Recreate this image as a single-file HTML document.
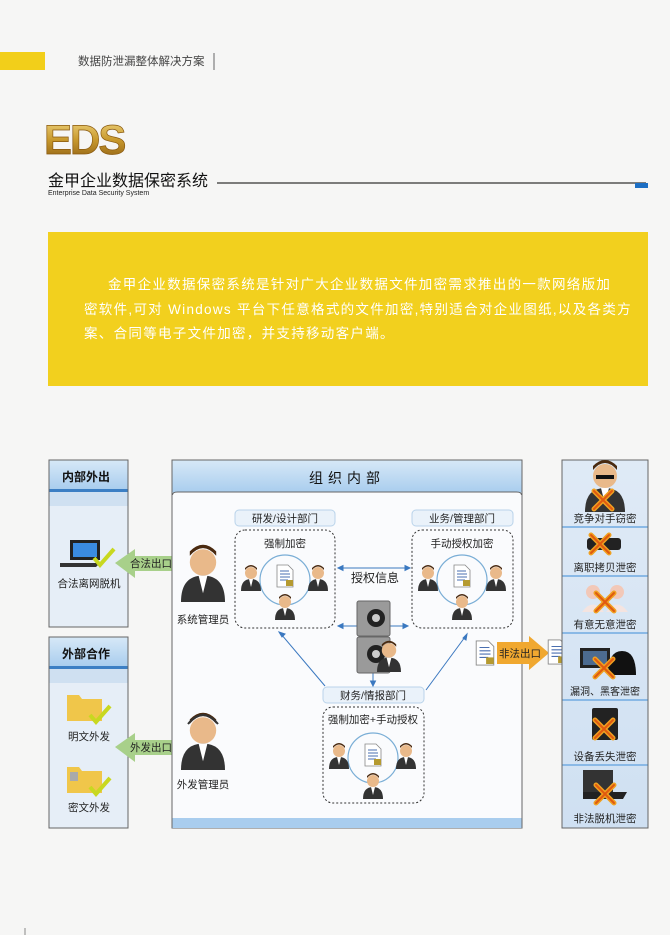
<!DOCTYPE html>
<html><head><meta charset="utf-8"><style>
html,body{margin:0;padding:0;background:#f6f6f5;}
svg{display:block;font-family:"Liberation Sans","Noto Sans CJK SC",sans-serif;}
</style></head><body>
<svg width="670" height="935" viewBox="0 0 670 935" xmlns="http://www.w3.org/2000/svg">
<defs>
<linearGradient id="hd" x1="0" y1="0" x2="0" y2="1"><stop offset="0" stop-color="#d6e8f7"/><stop offset="1" stop-color="#a9cdee"/></linearGradient>
<linearGradient id="gold" x1="0" y1="0" x2="0" y2="1"><stop offset="0" stop-color="#f4dc8a"/><stop offset="0.5" stop-color="#c99a2e"/><stop offset="1" stop-color="#8a5a10"/></linearGradient>
<linearGradient id="cell" x1="0" y1="0" x2="0" y2="1"><stop offset="0" stop-color="#dfeaf6"/><stop offset="1" stop-color="#cfe0f2"/></linearGradient>
<g id="man"><circle cx="0" cy="-8" r="6" fill="#e9b98a"/><path d="M-6,-11 q6,-7 12,0 v-2 q-6,-6 -12,0z" fill="#4a2a10"/><path d="M-10,10 q0,-12 10,-12 q10,0 10,12z" fill="#333"/><path d="M-2,-2 l2,8 l2,-8z" fill="#fff"/></g>
<g id="doc"><path d="M-8,-11 h11 l5,5 v17 h-16z" fill="#fff" stroke="#888" stroke-width="0.8"/><path d="M-5,-5 h9 M-5,-2 h10 M-5,1 h10 M-5,4 h8" stroke="#4a6fb0" stroke-width="1"/><rect x="1" y="4" width="7" height="6" fill="#b59a30"/></g>
<g id="xx"><path d="M-9,-9 L9,9 M9,-9 L-9,9" stroke="#f0a020" stroke-width="5" stroke-linecap="round"/><path d="M-9,-9 L9,9 M9,-9 L-9,9" stroke="#e05a10" stroke-width="2" stroke-linecap="round"/></g>
</defs>

<rect x="0" y="52" width="45" height="18" fill="#f2cf1a"/>
<text x="78" y="65" font-size="11.5" fill="#444">数据防泄漏整体解决方案</text>
<line x1="214" y1="53" x2="214" y2="70" stroke="#666" stroke-width="1"/>

<text x="44" y="154" font-size="42" font-weight="bold" fill="url(#gold)" stroke="#8a5a10" stroke-width="0.7" letter-spacing="-2">EDS</text>
<text x="48" y="186" font-size="16" fill="#111">金甲企业数据保密系统</text>
<line x1="217" y1="183" x2="646" y2="183" stroke="#333" stroke-width="1.3"/>
<rect x="635" y="183" width="13" height="5" fill="#1d6fc4"/>
<text x="48" y="195" font-size="7" fill="#222">Enterprise Data Security System</text>

<rect x="48" y="232" width="600" height="154" fill="#f2d01e"/>
<g font-size="13.5" fill="#fff" letter-spacing="1.3">
<text x="108" y="289">金甲企业数据保密系统是针对广大企业数据文件加密需求推出的一款网络版加</text>
<text x="84" y="314">密软件,可对 Windows 平台下任意格式的文件加密,特别适合对企业图纸,以及各类方</text>
<text x="84" y="338">案、合同等电子文件加密，并支持移动客户端。</text>
</g>

<rect x="49" y="460" width="79" height="167" fill="#e6eef7" stroke="#666" stroke-width="1"/>
<rect x="49.5" y="460.5" width="78" height="29" fill="url(#hd)"/>
<rect x="49.5" y="489" width="78" height="3" fill="#3c7fc4"/>
<rect x="49.5" y="492" width="78" height="14" fill="#cfe0f1"/>
<text x="62" y="481" font-size="12" font-weight="bold" fill="#111">内部外出</text>
<rect x="70" y="540" width="30" height="20" fill="#222"/><rect x="73" y="543" width="24" height="14" fill="#3a8be0"/>
<path d="M60,563 h40 l-4,4 h-36z" fill="#333"/>
<path d="M94,558 l6,7 l14,-16" stroke="#c8d820" stroke-width="4" fill="none"/>
<text x="89" y="587" font-size="10.5" fill="#222" text-anchor="middle">合法离网脱机</text>

<rect x="49" y="637" width="79" height="191" fill="#e6eef7" stroke="#666" stroke-width="1"/>
<rect x="49.5" y="637.5" width="78" height="29" fill="url(#hd)"/>
<rect x="49.5" y="666" width="78" height="3" fill="#3c7fc4"/>
<rect x="49.5" y="669" width="78" height="14" fill="#cfe0f1"/>
<text x="62" y="658" font-size="12" font-weight="bold" fill="#111">外部合作</text>
<path d="M67,695 h12 l3,4 h20 v22 h-35z" fill="#f0c64a"/>
<path d="M90,715 l6,7 l14,-16" stroke="#c8d820" stroke-width="4" fill="none"/>
<text x="89" y="740" font-size="10.5" fill="#222" text-anchor="middle">明文外发</text>
<path d="M67,767 h12 l3,4 h20 v22 h-35z" fill="#f0c64a"/>
<rect x="70" y="772" width="8" height="9" fill="#aaa"/>
<path d="M90,787 l6,7 l14,-16" stroke="#c8d820" stroke-width="4" fill="none"/>
<text x="89" y="811" font-size="10.5" fill="#222" text-anchor="middle">密文外发</text>

<path d="M115,563 l20,-14 v7 h43 v15 h-43 v7z" fill="#a8d08a"/>
<text x="130" y="567" font-size="10.5" fill="#222">合法出口</text>
<path d="M115,747 l20,-14 v7 h43 v15 h-43 v7z" fill="#a8d08a"/>
<text x="130" y="751" font-size="10.5" fill="#222">外发出口</text>

<rect x="172" y="460" width="350" height="368" fill="#fafbfd" stroke="#666" stroke-width="1"/>
<rect x="172.5" y="460.5" width="349" height="32" fill="url(#hd)"/>
<path d="M172.5,495 q0,-3 5,-3 h339 q5,0 5,3" fill="none" stroke="#666"/>
<rect x="172.5" y="818" width="349" height="10" fill="#a9cdee"/>
<text x="347" y="483" font-size="14" fill="#111" text-anchor="middle" letter-spacing="5">组织内部</text>

<g transform="translate(203,580) scale(2.2)"><use href="#man"/></g>
<text x="203" y="623" font-size="10.5" fill="#222" text-anchor="middle">系统管理员</text>
<g transform="translate(203,748) scale(2.2)"><use href="#man"/></g>
<path d="M188,724 q15,-18 30,0" stroke="#333" stroke-width="2" fill="none"/>
<text x="203" y="788" font-size="10.5" fill="#222" text-anchor="middle">外发管理员</text>

<rect x="235" y="510" width="100" height="16" rx="4" fill="#eaf2fa" stroke="#b9d3ea"/>
<text x="285" y="522" font-size="10.5" fill="#222" text-anchor="middle">研发/设计部门</text>
<rect x="235" y="530" width="100" height="98" rx="10" fill="none" stroke="#333" stroke-dasharray="2,2"/>
<text x="285" y="547" font-size="10.5" fill="#222" text-anchor="middle">强制加密</text>
<circle cx="285" cy="580" r="25" fill="none" stroke="#7aaed6" stroke-width="1.2"/>
<g transform="translate(251,581)"><use href="#man"/></g>
<g transform="translate(318,581)"><use href="#man"/></g>
<g transform="translate(285,610)"><use href="#man"/></g>
<g transform="translate(285,576)"><use href="#doc"/></g>

<rect x="412" y="510" width="101" height="16" rx="4" fill="#eaf2fa" stroke="#b9d3ea"/>
<text x="462" y="522" font-size="10.5" fill="#222" text-anchor="middle">业务/管理部门</text>
<rect x="412" y="530" width="101" height="98" rx="10" fill="none" stroke="#333" stroke-dasharray="2,2"/>
<text x="462" y="547" font-size="10.5" fill="#222" text-anchor="middle">手动授权加密</text>
<circle cx="462" cy="580" r="25" fill="none" stroke="#7aaed6" stroke-width="1.2"/>
<g transform="translate(428,581)"><use href="#man"/></g>
<g transform="translate(496,581)"><use href="#man"/></g>
<g transform="translate(462,610)"><use href="#man"/></g>
<g transform="translate(462,576)"><use href="#doc"/></g>

<rect x="323" y="687" width="101" height="16" rx="4" fill="#eaf2fa" stroke="#b9d3ea"/>
<text x="373" y="699" font-size="10.5" fill="#222" text-anchor="middle">财务/情报部门</text>
<rect x="323" y="707" width="101" height="96" rx="10" fill="none" stroke="#333" stroke-dasharray="2,2"/>
<text x="373" y="723" font-size="10.5" fill="#222" text-anchor="middle">强制加密+手动授权</text>
<circle cx="373" cy="758" r="25" fill="none" stroke="#7aaed6" stroke-width="1.2"/>
<g transform="translate(339,759)"><use href="#man"/></g>
<g transform="translate(406,759)"><use href="#man"/></g>
<g transform="translate(373,789)"><use href="#man"/></g>
<g transform="translate(373,755)"><use href="#doc"/></g>

<g stroke="#3a78c0" stroke-width="1" fill="#3a78c0">
<line x1="340" y1="568" x2="408" y2="568"/>
<path d="M338,568 l5,-2.5 v5z M410,568 l-5,-2.5 v5z"/>
<line x1="340" y1="626" x2="406" y2="626"/>
<path d="M338,626 l5,-2.5 v5z M408,626 l-5,-2.5 v5z"/>
<line x1="373" y1="673" x2="373" y2="684"/>
<path d="M373,686 l-2.5,-5 h5z"/>
<line x1="325" y1="686" x2="281" y2="634"/>
<path d="M279,632 l6,2 l-3,3z"/>
<line x1="426" y1="690" x2="465" y2="637"/>
<path d="M467,634 l-1,6 l-3,-2z"/>
</g>
<text x="375" y="582" font-size="12" fill="#222" text-anchor="middle">授权信息</text>

<rect x="357" y="601" width="33" height="35" rx="2" fill="#9a9a9a" stroke="#666"/>
<rect x="357" y="637" width="33" height="36" rx="2" fill="#9a9a9a" stroke="#666"/>
<circle cx="376" cy="618" r="9" fill="#222"/><circle cx="376" cy="618" r="4" fill="#ccc"/>
<circle cx="376" cy="654" r="9" fill="#222"/><circle cx="376" cy="654" r="4" fill="#ccc"/>
<g transform="translate(389,660) scale(1.2)"><use href="#man"/></g>

<g transform="translate(485,653) scale(1.1)"><use href="#doc"/></g>
<path d="M497,642 h32 v-6 l20,17 l-20,17 v-6 h-32z" fill="#f0a830"/>
<text x="499" y="657" font-size="10.5" fill="#222">非法出口</text>
<g transform="translate(557,652) scale(1.1)"><use href="#doc"/></g>

<rect x="562" y="460" width="86" height="368" fill="url(#cell)" stroke="#666"/>
<g fill="#8ab9e6"><rect x="562.5" y="526" width="85" height="2"/><rect x="562.5" y="575" width="85" height="2"/><rect x="562.5" y="632" width="85" height="2"/><rect x="562.5" y="699" width="85" height="2"/><rect x="562.5" y="764" width="85" height="2"/></g>
<g font-size="10.5" fill="#222" text-anchor="middle">
<g transform="translate(605,492) scale(2)"><use href="#man"/></g><rect x="596" y="475" width="18" height="4" fill="#111"/>
<g transform="translate(603,500)"><use href="#xx"/></g>
<text x="605" y="522">竞争对手窃密</text>
<rect x="587" y="538" width="34" height="12" rx="3" fill="#222"/>
<g transform="translate(600,544)"><use href="#xx"/></g>
<text x="605" y="571">离职拷贝泄密</text>
<circle cx="593" cy="592" r="7" fill="#f2c8b8"/><circle cx="617" cy="592" r="7" fill="#f2c8b8"/>
<path d="M582,612 q11,-15 22,0z M606,612 q11,-15 22,0z" fill="#f4e4e0"/>
<g transform="translate(605,602)"><use href="#xx"/></g>
<text x="605" y="628">有意无意泄密</text>
<rect x="580" y="648" width="30" height="20" fill="#222"/><rect x="583" y="651" width="24" height="14" fill="#4c6b90"/>
<path d="M608,675 q0,-24 14,-24 q14,0 14,24z" fill="#111"/>
<g transform="translate(604,668)"><use href="#xx"/></g>
<text x="605" y="695" font-size="10">漏洞、黑客泄密</text>
<rect x="592" y="708" width="26" height="32" rx="2" fill="#222"/>
<g transform="translate(604,729)"><use href="#xx"/></g>
<text x="605" y="760">设备丢失泄密</text>
<rect x="583" y="770" width="30" height="22" fill="#333"/><path d="M583,792 h44 l-4,7 h-40z" fill="#222"/>
<g transform="translate(605,794)"><use href="#xx"/></g>
<text x="605" y="822">非法脱机泄密</text>
</g>
<line x1="25" y1="928" x2="25" y2="935" stroke="#888"/>
</svg>
</body></html>
